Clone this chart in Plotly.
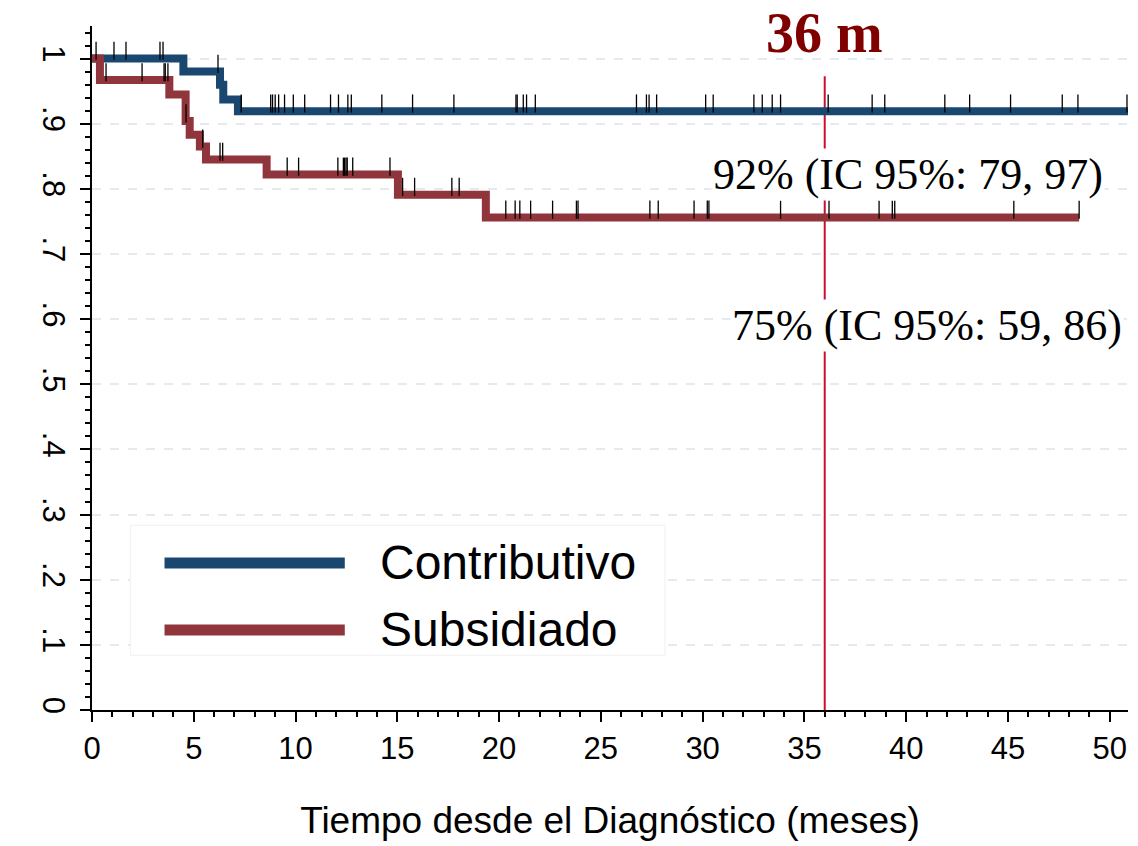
import plotly.graph_objects as go

# Kaplan-Meier step data
blue_t = [0, 4.49, 6.29, 6.45, 7.17, 50.9]
blue_s = [1.0, 0.98, 0.96, 0.937, 0.919, 0.919]
red_t = [0, 0.39, 3.8, 4.6, 4.8, 5.3, 5.6, 8.58, 15.03, 19.35, 48.5]
red_s = [1.0, 0.967, 0.945, 0.904, 0.883, 0.865, 0.845, 0.822, 0.791, 0.756, 0.756]

blue_cens = [1.08, 1.67, 3.34, 3.49, 6.19, 7.33, 8.78, 8.87, 9.0, 9.17, 9.46, 9.89, 10.45, 11.72, 12.11,
             12.57, 12.74, 14.24, 15.75, 17.78, 20.83, 20.89, 21.19, 21.35, 21.78, 26.75, 27.24, 27.37,
             27.74, 30.15, 30.52, 32.52, 32.93, 33.42, 33.83, 36.17, 38.33, 38.95, 41.9, 43.12, 45.13,
             47.67, 48.44, 50.85]
red_cens = [0.2, 0.69, 2.46, 3.54, 3.6, 3.73, 4.62, 5.44, 6.29, 6.42, 9.59, 10.15, 12.08, 12.35, 12.41,
            12.48, 12.54, 12.81, 14.64, 15.26, 15.85, 17.68, 18.04, 20.33, 20.79, 21.02, 21.55, 22.63,
            23.8, 23.88, 27.41, 27.82, 29.58, 30.23, 30.31, 33.83, 36.21, 38.67, 39.32, 39.44, 45.29, 48.5]
y_ticks = [i / 10 for i in range(11)]
y_labels = ["0", ".1", ".2", ".3", ".4", ".5", ".6", ".7", ".8", ".9", "1"]

def surv_at(ts, ss, t):
    v = ss[0]
    for a, b in zip(ts, ss):
        if a <= t:
            v = b
    return v

BLUE = "#1a476f"
RED = "#90353b"
fig = go.Figure()
fig.add_trace(go.Scatter(x=blue_t, y=blue_s, mode="lines", line=dict(color=BLUE, width=8, shape="hv"), showlegend=False))
fig.add_trace(go.Scatter(x=red_t, y=red_s, mode="lines", line=dict(color=RED, width=8, shape="hv"), showlegend=False))
for cens, ts, ss in [(blue_cens, blue_t, blue_s), (red_cens, red_t, red_s)]:
    fig.add_trace(go.Scatter(x=cens, y=[surv_at(ts, ss, c) + 0.012 for c in cens], mode="markers",
                             marker=dict(symbol="line-ns", size=13, line=dict(color="black", width=1.3)),
                             showlegend=False))

fig.add_shape(type="line", x0=36, x1=36, y0=0, y1=0.973, line=dict(color="#c8102e", width=2), layer="below")
fig.add_annotation(x=36, y=1.04, text="<b>36 m</b>", showarrow=False, yanchor="middle",
                   font=dict(family="Liberation Serif", size=56, color="#800000"))
fig.add_annotation(x=49.75, y=0.822, text="92% (IC 95%: 79, 97)", showarrow=False, xanchor="right",
                   font=dict(family="Liberation Serif", size=44, color="black"), bgcolor="white")
fig.add_annotation(x=50.7, y=0.591, text="75% (IC 95%: 59, 86)", showarrow=False, xanchor="right",
                   font=dict(family="Liberation Serif", size=44, color="black"), bgcolor="white")

# legend box
fig.add_shape(type="rect", xref="paper", yref="paper", x0=0.037, x1=0.553, y0=0.08, y1=0.27,
              fillcolor="white", line=dict(color="#f0f0f0", width=1))
for yy, col, name in [(0.215, BLUE, "Contributivo"), (0.117, RED, "Subsidiado")]:
    fig.add_shape(type="line", xref="paper", yref="paper", x0=0.07, x1=0.244, y0=yy, y1=yy,
                  line=dict(color=col, width=11))
    fig.add_annotation(xref="paper", yref="paper", x=0.276, y=yy, text=name, showarrow=False, xanchor="left",
                       yanchor="middle", font=dict(family="Liberation Sans", size=48, color="black"))

fig.update_layout(
    width=1130, height=838, margin=dict(l=84, r=10, t=18, b=136, autoexpand=False),
    plot_bgcolor="white", paper_bgcolor="white",
    font=dict(family="Liberation Sans", size=31, color="black"),
    xaxis=dict(range=[0, 50.9], tickvals=list(range(0, 51, 5)), showline=True, linecolor="black", linewidth=2,
               ticks="outside", ticklen=10, tickwidth=2, tickcolor="black", showgrid=False, zeroline=False,
               automargin=False,
               minor=dict(dtick=1, ticks="outside", ticklen=5, tickcolor="black", tickwidth=1.5),
               title=dict(text="Tiempo desde el Diagnóstico (meses)", font=dict(size=37), standoff=42)),
    yaxis=dict(range=[0, 1.05], tickvals=y_ticks, ticktext=y_labels, tickangle=90, automargin=False,
               showline=True, linecolor="black", linewidth=2, ticks="outside", ticklen=10, tickwidth=2,
               tickcolor="black", zeroline=False, showgrid=True, gridcolor="#e3eaf0", griddash="dash", gridwidth=1.5,
               minor=dict(dtick=0.02, ticks="outside", ticklen=5, tickcolor="black", tickwidth=1.5, showgrid=False)),
)
fig.write_html("out.html")
